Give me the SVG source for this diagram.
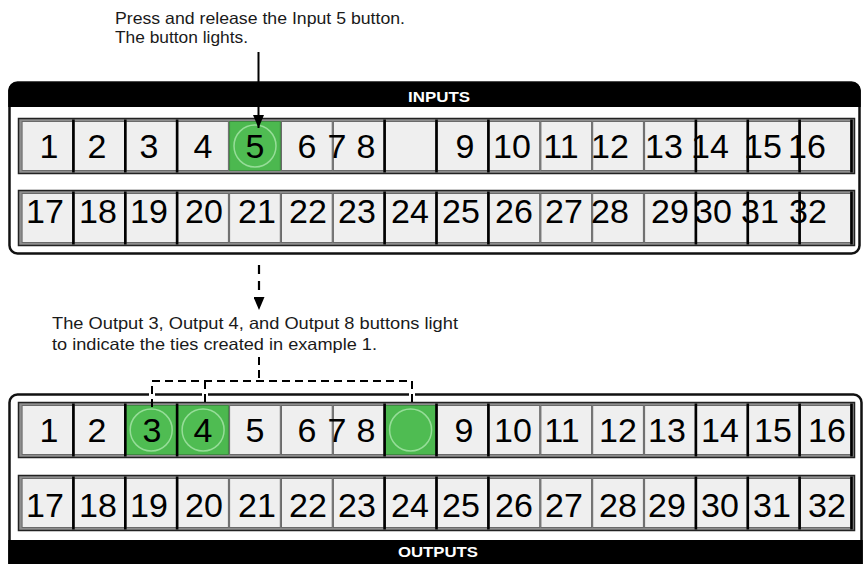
<svg xmlns="http://www.w3.org/2000/svg" width="867" height="564" viewBox="0 0 867 564">
<defs>
<style>
.bg{fill:#ffffff}
.panel{fill:#ffffff;stroke:#111;stroke-width:2.5}
.bar{fill:#000}
.head{font-family:"Liberation Sans",Arial,sans-serif;font-weight:bold;font-size:14px;fill:#fff;text-anchor:middle}
.note{font-family:"Liberation Sans",Arial,sans-serif;font-size:16.5px;fill:#1a1a1a}
.strip{fill:#8e8e8e;stroke:#222;stroke-width:1.5}
.cell{fill:#efefef;stroke:#6a6a6a;stroke-width:1}
.on{fill:#4cb84f;stroke:#3c8a3f;stroke-width:1}
.ring{fill:#4fbc52;stroke:#96dd98;stroke-width:1.5}
.num{font-family:"Liberation Sans",Arial,sans-serif;font-size:34px;fill:#000;text-anchor:middle}
.sep{stroke:#000;stroke-width:2.6}
.solid{stroke:#000;stroke-width:2;fill:none}
.dash{stroke:#000;stroke-width:2.2;fill:none;stroke-dasharray:9 7}
.dash2{stroke:#000;stroke-width:2;fill:none;stroke-dasharray:8 5}
.halo{stroke:#fff;stroke-width:6;fill:none}
</style>
<marker id="ah" markerUnits="userSpaceOnUse" markerWidth="13" markerHeight="11" refX="13" refY="5.5" orient="auto">
<path d="M0,0 L13,5.5 L0,11 Z" fill="#000"/>
</marker>
</defs>
<rect class="bg" x="0" y="0" width="867" height="564"/>

<g id="note-top">
<text class="note" x="115" y="24" textLength="290" lengthAdjust="spacingAndGlyphs">Press and release the Input 5 button.</text>
<text class="note" x="115" y="43" textLength="133" lengthAdjust="spacingAndGlyphs">The button lights.</text>
</g>

<g id="inputs-panel">
<rect class="panel" x="9.5" y="82.5" width="850" height="171" rx="8"/>
<path class="bar" d="M8.25,107 V90.5 a8.25,8.25 0 0 1 8.25,-8.25 H852.5 a8.25,8.25 0 0 1 8.25,8.25 V107 Z"/>
<text class="head" x="439" y="102" textLength="62" lengthAdjust="spacingAndGlyphs">INPUTS</text>
<rect class="strip" x="18.5" y="118.5" width="836" height="55"/>
<rect class="strip" x="18.5" y="190.5" width="836" height="55"/>
</g>

<g id="input-buttons">
<g id="in-1"><rect class="cell" x="22.1" y="121.5" width="50.7" height="49"/><text class="num" x="49" y="158">1</text></g>
<g id="in-2"><rect class="cell" x="74" y="121.5" width="50.7" height="49"/><text class="num" x="97" y="158">2</text></g>
<g id="in-3"><rect class="cell" x="125.9" y="121.5" width="50.7" height="49"/><text class="num" x="149" y="158">3</text></g>
<g id="in-4"><rect class="cell" x="177.7" y="121.5" width="50.7" height="49"/><text class="num" x="203" y="158">4</text></g>
<g id="in-5"><rect class="on" x="229.6" y="121.5" width="50.7" height="49"/><circle class="ring" cx="255" cy="146" r="21"/><text class="num" x="255" y="158">5</text></g>
<g id="in-6"><rect class="cell" x="281.5" y="121.5" width="50.7" height="49"/><text class="num" x="307" y="158">6</text></g>
<g id="in-7"><rect class="cell" x="333.4" y="121.5" width="50.7" height="49"/><text class="num" x="337" y="158">7</text></g>
<g id="in-8"><rect class="cell" x="385.2" y="121.5" width="50.7" height="49"/><text class="num" x="366" y="158">8</text></g>
<g id="in-9"><rect class="cell" x="437.1" y="121.5" width="50.7" height="49"/><text class="num" x="465" y="158">9</text></g>
<g id="in-10"><rect class="cell" x="489" y="121.5" width="50.7" height="49"/><text class="num" x="512" y="158">10</text></g>
<g id="in-11"><rect class="cell" x="540.9" y="121.5" width="50.7" height="49"/><text class="num" x="561" y="158">11</text></g>
<g id="in-12"><rect class="cell" x="592.7" y="121.5" width="50.7" height="49"/><text class="num" x="610" y="158">12</text></g>
<g id="in-13"><rect class="cell" x="644.6" y="121.5" width="50.7" height="49"/><text class="num" x="664" y="158">13</text></g>
<g id="in-14"><rect class="cell" x="696.5" y="121.5" width="50.7" height="49"/><text class="num" x="710" y="158">14</text></g>
<g id="in-15"><rect class="cell" x="748.4" y="121.5" width="50.7" height="49"/><text class="num" x="763" y="158">15</text></g>
<g id="in-16"><rect class="cell" x="800.2" y="121.5" width="50.7" height="49"/><text class="num" x="807" y="158">16</text></g>

<g id="in-17"><rect class="cell" x="22.1" y="193.5" width="50.7" height="49"/><text class="num" x="45" y="223">17</text></g>
<g id="in-18"><rect class="cell" x="74" y="193.5" width="50.7" height="49"/><text class="num" x="98" y="223">18</text></g>
<g id="in-19"><rect class="cell" x="125.9" y="193.5" width="50.7" height="49"/><text class="num" x="149" y="223">19</text></g>
<g id="in-20"><rect class="cell" x="177.7" y="193.5" width="50.7" height="49"/><text class="num" x="204" y="223">20</text></g>
<g id="in-21"><rect class="cell" x="229.6" y="193.5" width="50.7" height="49"/><text class="num" x="257" y="223">21</text></g>
<g id="in-22"><rect class="cell" x="281.5" y="193.5" width="50.7" height="49"/><text class="num" x="308" y="223">22</text></g>
<g id="in-23"><rect class="cell" x="333.4" y="193.5" width="50.7" height="49"/><text class="num" x="357" y="223">23</text></g>
<g id="in-24"><rect class="cell" x="385.2" y="193.5" width="50.7" height="49"/><text class="num" x="410" y="223">24</text></g>
<g id="in-25"><rect class="cell" x="437.1" y="193.5" width="50.7" height="49"/><text class="num" x="461" y="223">25</text></g>
<g id="in-26"><rect class="cell" x="489" y="193.5" width="50.7" height="49"/><text class="num" x="514" y="223">26</text></g>
<g id="in-27"><rect class="cell" x="540.9" y="193.5" width="50.7" height="49"/><text class="num" x="564" y="223">27</text></g>
<g id="in-28"><rect class="cell" x="592.7" y="193.5" width="50.7" height="49"/><text class="num" x="610" y="223">28</text></g>
<g id="in-29"><rect class="cell" x="644.6" y="193.5" width="50.7" height="49"/><text class="num" x="670" y="223">29</text></g>
<g id="in-30"><rect class="cell" x="696.5" y="193.5" width="50.7" height="49"/><text class="num" x="713" y="223">30</text></g>
<g id="in-31"><rect class="cell" x="748.4" y="193.5" width="50.7" height="49"/><text class="num" x="760" y="223">31</text></g>
<g id="in-32"><rect class="cell" x="800.2" y="193.5" width="50.7" height="49"/><text class="num" x="808" y="223">32</text></g>
<path class="sep" d="M73.4,119.5V172.5M125.3,119.5V172.5M177.1,119.5V172.5M384.6,119.5V172.5M436.5,119.5V172.5M488.4,119.5V172.5M695.9,119.5V172.5M747.8,119.5V172.5M799.6,119.5V172.5M851.5,119.5V172.5"/>
<path class="sep" d="M73.4,191.5V244.5M125.3,191.5V244.5M177.1,191.5V244.5M384.6,191.5V244.5M436.5,191.5V244.5M488.4,191.5V244.5M695.9,191.5V244.5M747.8,191.5V244.5M799.6,191.5V244.5M851.5,191.5V244.5"/>
</g>

<g id="note-bottom">
<text class="note" x="52" y="329" textLength="406" lengthAdjust="spacingAndGlyphs">The Output 3, Output 4, and Output 8 buttons light</text>
<text class="note" x="52" y="350" textLength="325" lengthAdjust="spacingAndGlyphs">to indicate the ties created in example 1.</text>
</g>

<g id="outputs-panel">
<rect class="panel" x="9.5" y="394.5" width="852" height="190" rx="8"/>
<rect class="bar" x="8.25" y="540" width="854.5" height="30"/>
<text class="head" x="438" y="557" textLength="80" lengthAdjust="spacingAndGlyphs">OUTPUTS</text>
<rect class="strip" x="18.5" y="402.5" width="836" height="55"/>
<rect class="strip" x="18.5" y="475.5" width="836" height="55"/>
</g>

<g id="output-buttons">
<g id="out-1"><rect class="cell" x="22.1" y="405.5" width="50.7" height="49"/><text class="num" x="49" y="442">1</text></g>
<g id="out-2"><rect class="cell" x="74" y="405.5" width="50.7" height="49"/><text class="num" x="97" y="442">2</text></g>
<g id="out-3"><rect class="on" x="125.9" y="405.5" width="50.7" height="49"/><circle class="ring" cx="151.2" cy="430" r="21"/><text class="num" x="152" y="442">3</text></g>
<g id="out-4"><rect class="on" x="177.7" y="405.5" width="50.7" height="49"/><circle class="ring" cx="203.1" cy="430" r="21"/><text class="num" x="203" y="442">4</text></g>
<g id="out-5"><rect class="cell" x="229.6" y="405.5" width="50.7" height="49"/><text class="num" x="255" y="442">5</text></g>
<g id="out-6"><rect class="cell" x="281.5" y="405.5" width="50.7" height="49"/><text class="num" x="307" y="442">6</text></g>
<g id="out-7"><rect class="cell" x="333.4" y="405.5" width="50.7" height="49"/><text class="num" x="337" y="442">7</text></g>
<g id="out-8"><rect class="on" x="385.2" y="405.5" width="50.7" height="49"/><circle class="ring" cx="410.6" cy="430" r="21"/><text class="num" x="366" y="442">8</text></g>
<g id="out-9"><rect class="cell" x="437.1" y="405.5" width="50.7" height="49"/><text class="num" x="464" y="442">9</text></g>
<g id="out-10"><rect class="cell" x="489" y="405.5" width="50.7" height="49"/><text class="num" x="513" y="442">10</text></g>
<g id="out-11"><rect class="cell" x="540.9" y="405.5" width="50.7" height="49"/><text class="num" x="562" y="442">11</text></g>
<g id="out-12"><rect class="cell" x="592.7" y="405.5" width="50.7" height="49"/><text class="num" x="618" y="442">12</text></g>
<g id="out-13"><rect class="cell" x="644.6" y="405.5" width="50.7" height="49"/><text class="num" x="667" y="442">13</text></g>
<g id="out-14"><rect class="cell" x="696.5" y="405.5" width="50.7" height="49"/><text class="num" x="720" y="442">14</text></g>
<g id="out-15"><rect class="cell" x="748.4" y="405.5" width="50.7" height="49"/><text class="num" x="773" y="442">15</text></g>
<g id="out-16"><rect class="cell" x="800.2" y="405.5" width="50.7" height="49"/><text class="num" x="827" y="442">16</text></g>

<g id="out-17"><rect class="cell" x="22.1" y="478.5" width="50.7" height="49"/><text class="num" x="45" y="517">17</text></g>
<g id="out-18"><rect class="cell" x="74" y="478.5" width="50.7" height="49"/><text class="num" x="98" y="517">18</text></g>
<g id="out-19"><rect class="cell" x="125.9" y="478.5" width="50.7" height="49"/><text class="num" x="149" y="517">19</text></g>
<g id="out-20"><rect class="cell" x="177.7" y="478.5" width="50.7" height="49"/><text class="num" x="204" y="517">20</text></g>
<g id="out-21"><rect class="cell" x="229.6" y="478.5" width="50.7" height="49"/><text class="num" x="257" y="517">21</text></g>
<g id="out-22"><rect class="cell" x="281.5" y="478.5" width="50.7" height="49"/><text class="num" x="308" y="517">22</text></g>
<g id="out-23"><rect class="cell" x="333.4" y="478.5" width="50.7" height="49"/><text class="num" x="357" y="517">23</text></g>
<g id="out-24"><rect class="cell" x="385.2" y="478.5" width="50.7" height="49"/><text class="num" x="410" y="517">24</text></g>
<g id="out-25"><rect class="cell" x="437.1" y="478.5" width="50.7" height="49"/><text class="num" x="461" y="517">25</text></g>
<g id="out-26"><rect class="cell" x="489" y="478.5" width="50.7" height="49"/><text class="num" x="514" y="517">26</text></g>
<g id="out-27"><rect class="cell" x="540.9" y="478.5" width="50.7" height="49"/><text class="num" x="564" y="517">27</text></g>
<g id="out-28"><rect class="cell" x="592.7" y="478.5" width="50.7" height="49"/><text class="num" x="618" y="517">28</text></g>
<g id="out-29"><rect class="cell" x="644.6" y="478.5" width="50.7" height="49"/><text class="num" x="667" y="517">29</text></g>
<g id="out-30"><rect class="cell" x="696.5" y="478.5" width="50.7" height="49"/><text class="num" x="720" y="517">30</text></g>
<g id="out-31"><rect class="cell" x="748.4" y="478.5" width="50.7" height="49"/><text class="num" x="772" y="517">31</text></g>
<g id="out-32"><rect class="cell" x="800.2" y="478.5" width="50.7" height="49"/><text class="num" x="827" y="517">32</text></g>
<path class="sep" d="M73.4,403.5V456.5M125.3,403.5V456.5M177.1,403.5V456.5M384.6,403.5V456.5M436.5,403.5V456.5M488.4,403.5V456.5M695.9,403.5V456.5M747.8,403.5V456.5M799.6,403.5V456.5M851.5,403.5V456.5"/>
<path class="sep" d="M73.4,476.5V529.5M125.3,476.5V529.5M177.1,476.5V529.5M384.6,476.5V529.5M436.5,476.5V529.5M488.4,476.5V529.5M695.9,476.5V529.5M747.8,476.5V529.5M799.6,476.5V529.5M851.5,476.5V529.5"/>
</g>

<g id="connectors">
<line class="solid" x1="258.5" y1="52" x2="258.5" y2="128" marker-end="url(#ah)"/>
<line class="dash" x1="259" y1="265" x2="259" y2="310" marker-end="url(#ah)"/>
<path class="dash2" d="M259,357 V381"/>
<path class="halo" d="M152,389 V399 M205,389 V399 M412,389 V399"/>
<path class="dash2" d="M152,407 V381 H412 V407"/>
<path class="dash2" d="M205,381 V407"/>
</g>
</svg>
